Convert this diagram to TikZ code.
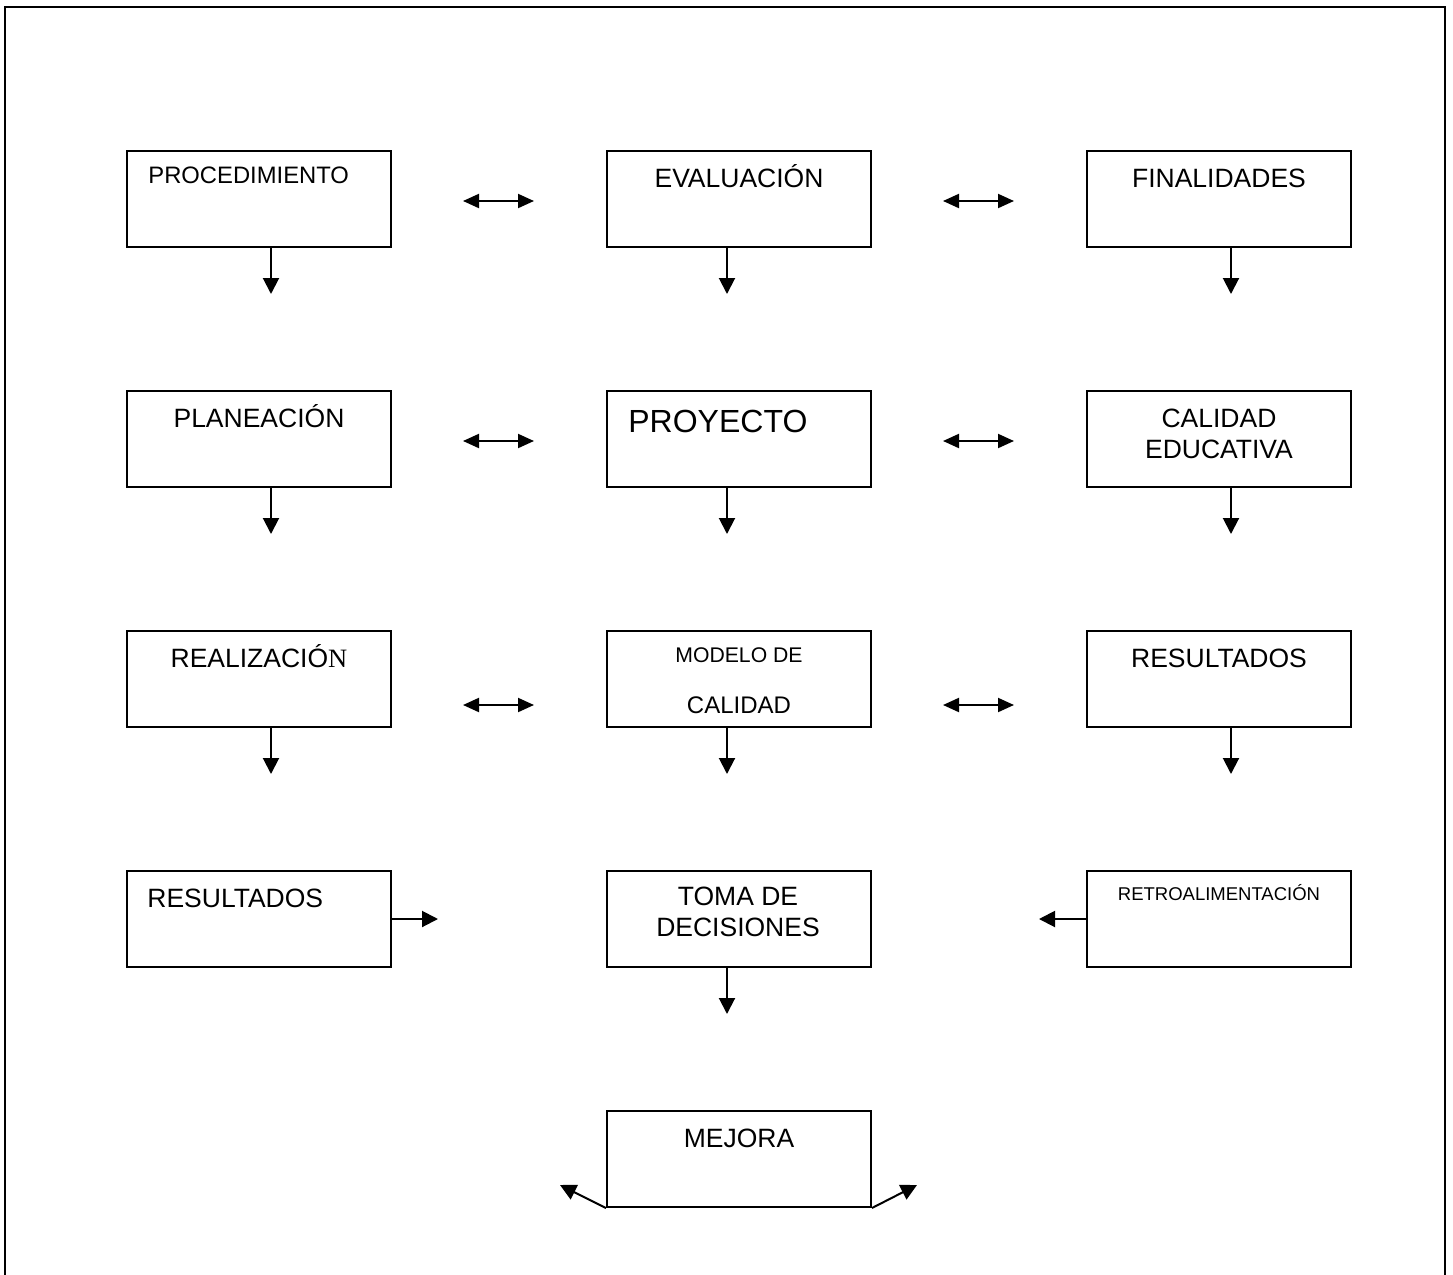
\documentclass[tikz,border=0pt]{standalone}
\usepackage{fontspec}
\setmainfont{Liberation Sans}
\newfontfamily\serifface{Liberation Serif}
\usetikzlibrary{arrows.meta}
\begin{document}
\begin{tikzpicture}[x=0.5pt,y=-0.5pt,
  box/.style={draw, line width=1pt, minimum width=132pt, minimum height=48pt, inner sep=0pt},
  lbl/.style={anchor=base, inner sep=0pt, align=center, font=\fontsize{13.25}{15.5}\selectfont},
  lbll/.style={lbl, anchor=base west},
  dn/.style={line width=1pt, -{Triangle[length=8pt,width=8pt]}},
  both/.style={line width=1pt, {Triangle[length=8pt,width=7pt]}-{Triangle[length=8pt,width=7pt]}}]
\useasboundingbox (0,0) rectangle (1453,1275);
% outer frame, open at the bottom
\draw[line width=1pt] (5,1275) -- (5,7) -- (1445,7) -- (1445,1275);

% boxes
\node[box] (proc) at (259,199) {};
\node[box] (eval) at (739,199) {};
\node[box] (fina) at (1219,199) {};
\node[box] (plan) at (259,439) {};
\node[box] (proy) at (739,439) {};
\node[box] (cali) at (1219,439) {};
\node[box] (real) at (259,679) {};
\node[box] (mode) at (739,679) {};
\node[box] (resr) at (1219,679) {};
\node[box] (resl) at (259,919) {};
\node[box] (toma) at (739,919) {};
\node[box] (retr) at (1219,919) {};
\node[box] (mejo) at (739,1159) {};

% labels (two-line labels sit on the baseline of their last line)
\node[lbll, font=\fontsize{11.9}{14}\selectfont] (tproc) at (148,183) {PROCEDIMIENTO};
\node[lbl] (teval) at (739,187) {EVALUACIÓN};
\node[lbl] (tfina) at (1219,187) {FINALIDADES};
\node[lbl] (tplan) at (259,427) {PLANEACIÓN};
\node[lbll, font=\fontsize{16}{19}\selectfont] (tproy) at (628,432) {PROYECTO};
\node[lbl] (tcali) at (1219,458) {CALIDAD\\EDUCATIVA};
\node[lbl] (treal) at (259,667) {REALIZACIÓ{\serifface N}};
\node[lbl, font=\fontsize{10.6}{12}\selectfont] (tmod1) at (739,662) {MODELO DE};
\node[lbl, font=\fontsize{12}{14}\selectfont] (tmod2) at (739,713) {CALIDAD};
\node[lbl] (tresr) at (1219,667) {RESULTADOS};
\node[lbll] (tresl) at (147,907) {RESULTADOS};
\node[lbl] (ttoma) at (738,936) {TOMA DE\\DECISIONES};
\node[lbl, font=\fontsize{9.25}{11}\selectfont] (tretr) at (1219,900) {RETROALIMENTACIÓN};
\node[lbl] (tmejo) at (739,1147) {MEJORA};

% free ends of the arrows
\coordinate (dproc) at (271,294);
\coordinate (deval) at (727,294);
\coordinate (dfina) at (1231,294);
\coordinate (dplan) at (271,534);
\coordinate (dproy) at (727,534);
\coordinate (dcali) at (1231,534);
\coordinate (dreal) at (271,774);
\coordinate (dmode) at (727,774);
\coordinate (dresr) at (1231,774);
\coordinate (dtoma) at (727,1014);
\coordinate (rresl) at (438,919);
\coordinate (lretr) at (1039,919);
\coordinate (mejl) at (560,1185);
\coordinate (mejr) at (917,1185);

% downward arrows
\draw[dn] (proc.south -| dproc) -- (dproc);
\draw[dn] (eval.south -| deval) -- (deval);
\draw[dn] (fina.south -| dfina) -- (dfina);
\draw[dn] (plan.south -| dplan) -- (dplan);
\draw[dn] (proy.south -| dproy) -- (dproy);
\draw[dn] (cali.south -| dcali) -- (dcali);
\draw[dn] (real.south -| dreal) -- (dreal);
\draw[dn] (mode.south -| dmode) -- (dmode);
\draw[dn] (resr.south -| dresr) -- (dresr);
\draw[dn] (toma.south -| dtoma) -- (dtoma);

% side arrows
\draw[dn] (resl.east) -- (rresl);
\draw[dn] (retr.west) -- (lretr);
\draw[dn] (mejo.south west) -- (mejl);
\draw[dn] (mejo.south east) -- (mejr);

% double arrows between the columns
\foreach \r/\y in {1/201,2/441,3/705}{
  \coordinate (a\r) at (463,\y); \coordinate (b\r) at (534,\y);
  \coordinate (c\r) at (943,\y); \coordinate (d\r) at (1014,\y);
  \draw[both] (a\r) -- (b\r);
  \draw[both] (c\r) -- (d\r);
}
\end{tikzpicture}
\end{document}
